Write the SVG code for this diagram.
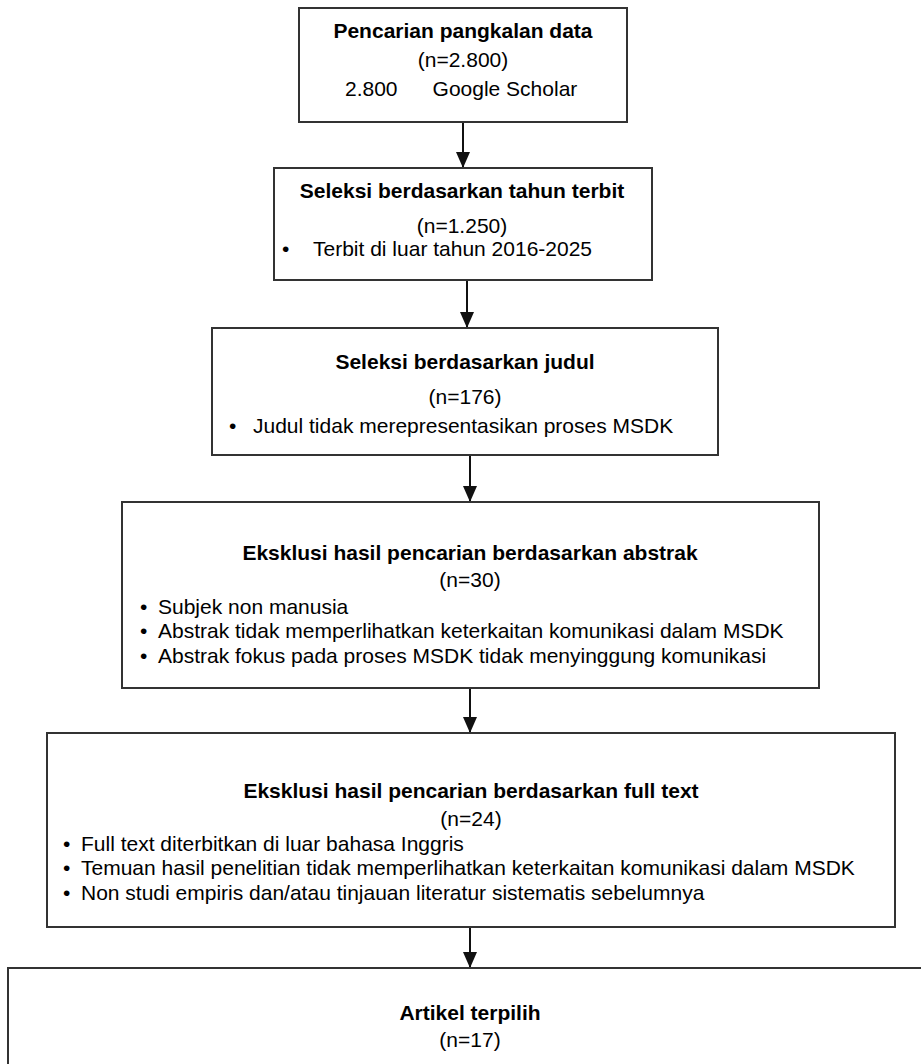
<svg xmlns="http://www.w3.org/2000/svg" width="921" height="1064" viewBox="0 0 921 1064">
<style>
.box{fill:#fff;stroke:#333;stroke-width:2}
text{font-family:"Liberation Sans",Arial,sans-serif;font-size:21px;fill:#000}
.t{font-weight:bold;text-anchor:middle}
.c{text-anchor:middle}
.conn{stroke:#111;stroke-width:2;fill:none}
</style>
<defs>
<marker id="ad" markerUnits="userSpaceOnUse" markerWidth="14" markerHeight="16" refX="7" refY="16" orient="0" viewBox="0 0 14 16">
<path d="M0,0 L14,0 L7,16 Z" fill="#111"/>
</marker>
</defs>
<g id="connectors">
<line class="conn" x1="463" y1="122" x2="463" y2="168" marker-end="url(#ad)"/>
<line class="conn" x1="467" y1="280" x2="467" y2="328" marker-end="url(#ad)"/>
<line class="conn" x1="470" y1="455" x2="470" y2="502" marker-end="url(#ad)"/>
<line class="conn" x1="470" y1="688" x2="470" y2="733" marker-end="url(#ad)"/>
<line class="conn" x1="470" y1="927" x2="470" y2="968" marker-end="url(#ad)"/>
</g>
<g id="n1">
<rect class="box" x="299" y="8" width="328" height="114"/>
<text class="t" x="463" y="38">Pencarian pangkalan data</text>
<text class="c" x="463" y="67">(n=2.800)</text>
<text x="345" y="96" xml:space="preserve">2.800      Google Scholar</text>
</g>
<g id="n2">
<rect class="box" x="274" y="168" width="378" height="112"/>
<text class="t" x="462" y="198">Seleksi berdasarkan tahun terbit</text>
<text class="c" x="462" y="233">(n=1.250)</text>
<text x="282" y="256">•</text>
<text x="313" y="256">Terbit di luar tahun 2016-2025</text>
</g>
<g id="n3">
<rect class="box" x="212" y="328" width="506" height="127"/>
<text class="t" x="465" y="369">Seleksi berdasarkan judul</text>
<text class="c" x="465" y="404">(n=176)</text>
<text x="229" y="433">•</text>
<text x="253" y="433">Judul tidak merepresentasikan proses MSDK</text>
</g>
<g id="n4">
<rect class="box" x="122" y="502" width="697" height="186"/>
<text class="t" x="470" y="560">Eksklusi hasil pencarian berdasarkan abstrak</text>
<text class="c" x="470" y="587">(n=30)</text>
<text x="140" y="614">•</text><text x="158" y="614">Subjek non manusia</text>
<text x="140" y="638">•</text><text x="158" y="638">Abstrak tidak memperlihatkan keterkaitan komunikasi dalam MSDK</text>
<text x="140" y="663">•</text><text x="158" y="663">Abstrak fokus pada proses MSDK tidak menyinggung komunikasi</text>
</g>
<g id="n5">
<rect class="box" x="47" y="733" width="848" height="194"/>
<text class="t" x="471" y="798">Eksklusi hasil pencarian berdasarkan full text</text>
<text class="c" x="471" y="826">(n=24)</text>
<text x="63" y="851">•</text><text x="81" y="851">Full text diterbitkan di luar bahasa Inggris</text>
<text x="63" y="875">•</text><text x="81" y="875">Temuan hasil penelitian tidak memperlihatkan keterkaitan komunikasi dalam MSDK</text>
<text x="63" y="900">•</text><text x="81" y="900">Non studi empiris dan/atau tinjauan literatur sistematis sebelumnya</text>
</g>
<g id="n6">
<rect class="box" x="8" y="968" width="940" height="120"/>
<text class="t" x="470" y="1020">Artikel terpilih</text>
<text class="c" x="470" y="1047">(n=17)</text>
</g>
</svg>
